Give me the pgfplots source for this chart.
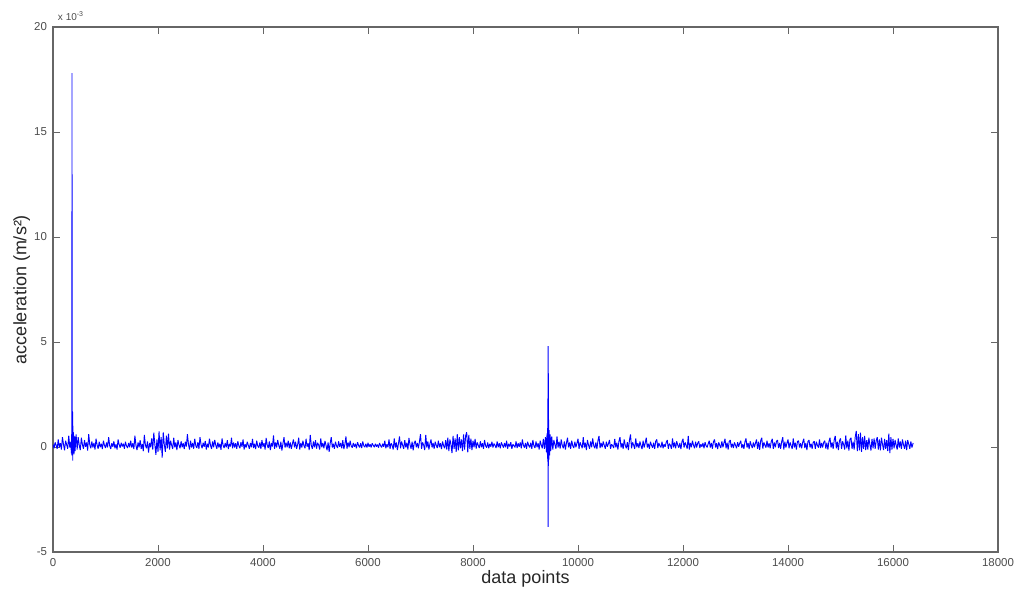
\documentclass[border=0pt]{standalone}
\usepackage{pgfplots}
\pgfplotsset{compat=1.18}
\usepackage{fontspec}
\setmainfont{Liberation Sans}
\definecolor{axgray}{rgb}{0.40,0.40,0.40}
\definecolor{txtgray}{rgb}{0.30,0.30,0.30}
\begin{document}
\begin{tikzpicture}
\path[use as bounding box] (-39.75pt,-35.25pt) rectangle (728.25pt,414pt);
\begin{axis}[
  at={(0,0)}, anchor=south west,
  scale only axis, width=708.75pt, height=393.75pt,
  xmin=0, xmax=18000, ymin=-5, ymax=20,
  xtick={0,2000,...,18000}, ytick={-5,0,5,10,15,20},
  scaled x ticks=false, scaled y ticks=false,
  tick align=inside, major tick length=5pt,
  xtick pos=both, ytick pos=both,
  xticklabel pos=bottom, yticklabel pos=left,
  axis line style={axgray, line width=0.8pt},
  tick style={axgray, line width=0.7pt},
  /pgf/number format/assume math mode=true,
  /pgf/number format/set thousands separator={},
  ticklabel style={font=\fontsize{8.6}{10}\selectfont, text=txtgray},
  xticklabel style={yshift=-1pt},
  yticklabel style={xshift=-1pt},
  xlabel={data points},
  ylabel={acceleration (m/s²)},
  label style={font=\fontsize{13.5}{16}\selectfont, text=black!85},
  xlabel style={at={(axis description cs:0.5,0)}, anchor=center, yshift=-20.5pt},
  ylabel style={at={(axis description cs:-0.033,0.5)}, anchor=center},
  clip mode=individual,
]
\addplot[color={rgb,255:red,0;green,0;blue,255}, line width=0.7pt, line join=bevel] coordinates {
(0,0.12)(20,-0.06)(40,0.22)(60,0.08)(80,-0.09)(100,0.36)(120,-0.01)(140,0.18)(160,-0.12)(180,0.47)(200,0.13)(220,-0.16)(240,0.30)(260,0.11)(280,-0.08)(300,0.54)(320,-0.03)(340,0.25)(350,-0.30)(355,0.6)(360,-0.4)(362,17.8)(364,0.2)(366,2.9)(368,-0.3)(372,1.7)(376,-0.65)(380,1.0)(385,0.1)(390,0.7)(400,-0.35)(410,0.5)(420,-0.2)(440,0.6)(460,-0.12)(480,0.47)(500,0.08)
(520,-0.15)(540,0.44)(560,0.12)(580,-0.09)(600,0.33)(620,0.01)(640,0.22)(660,-0.17)(680,0.61)(700,0.11)(720,-0.06)(740,0.26)(760,-0.02)(780,0.19)(800,-0.12)(820,0.40)(840,0.09)(860,-0.08)(880,0.25)(900,-0.01)(920,0.16)(940,-0.10)(960,0.30)(980,0.08)(1000,-0.05)
(1020,0.22)(1040,-0.02)(1060,0.47)(1080,0.06)(1100,-0.09)(1120,0.18)(1140,0.01)(1160,0.27)(1180,-0.06)(1200,0.13)(1220,-0.12)(1240,0.36)(1260,0.11)(1280,-0.03)(1300,0.20)(1320,0.02)(1340,0.16)(1360,-0.08)(1380,0.25)(1400,0.05)(1420,-0.05)(1440,0.19)(1460,-0.01)(1480,0.30)(1500,-0.03)
(1520,0.18)(1540,-0.10)(1560,0.54)(1580,0.08)(1600,-0.15)(1620,0.22)(1640,-0.02)(1660,0.33)(1680,-0.09)(1700,0.15)(1720,-0.20)(1740,0.58)(1760,0.09)(1780,-0.06)(1800,0.26)(1820,-0.26)(1840,0.19)(1860,-0.01)(1880,0.41)(1900,-0.12)(1920,0.68)(1940,0.12)(1960,-0.37)(1980,0.36)(2000,-0.23)
(2020,0.74)(2040,-0.16)(2060,0.47)(2080,-0.50)(2100,0.70)(2120,0.12)(2140,-0.23)(2160,0.54)(2180,-0.06)(2200,0.64)(2220,-0.12)(2240,0.30)(2260,0.08)(2280,-0.09)(2300,0.44)(2320,-0.02)(2340,0.22)(2360,-0.15)(2380,0.33)(2400,0.09)(2420,-0.06)(2440,0.27)(2460,-0.01)(2480,0.18)(2500,-0.10)
(2520,0.25)(2540,0.02)(2560,0.61)(2580,0.13)(2600,-0.12)(2620,0.30)(2640,-0.03)(2660,0.19)(2680,-0.08)(2700,0.39)(2720,0.06)(2740,-0.05)(2760,0.23)(2780,-0.09)(2800,0.47)(2820,0.11)(2840,-0.06)(2860,0.20)(2880,0.01)(2900,0.29)(2920,-0.12)(2940,0.16)(2960,-0.02)(2980,0.40)(3000,0.08)
(3020,-0.09)(3040,0.26)(3060,-0.01)(3080,0.34)(3100,0.09)(3120,-0.08)(3140,0.22)(3160,-0.03)(3180,0.16)(3200,-0.13)(3220,0.41)(3240,0.08)(3260,-0.05)(3280,0.19)(3300,-0.01)(3320,0.32)(3340,-0.10)(3360,0.15)(3380,0.02)(3400,0.44)(3420,-0.06)(3440,0.22)(3460,-0.02)(3480,0.18)(3500,-0.09)
(3520,0.27)(3540,0.06)(3560,-0.06)(3580,0.23)(3600,0.01)(3620,0.36)(3640,-0.12)(3660,0.13)(3680,-0.02)(3700,0.25)(3720,0.08)(3740,-0.08)(3760,0.19)(3780,-0.01)(3800,0.39)(3820,-0.05)(3840,0.16)(3860,-0.10)(3880,0.30)(3900,0.05)(3920,-0.03)(3940,0.22)(3960,-0.09)(3980,0.33)(4000,0.01)
(4020,0.18)(4040,-0.12)(4060,0.43)(4080,0.09)(4100,-0.05)(4120,0.26)(4140,-0.15)(4160,0.19)(4180,0.02)(4200,0.55)(4220,-0.09)(4240,0.22)(4260,-0.02)(4280,0.33)(4300,0.08)(4320,-0.08)(4340,0.25)(4360,-0.17)(4380,0.16)(4400,0.47)(4420,-0.03)(4440,0.20)(4460,-0.01)(4480,0.30)(4500,-0.06)
(4520,0.22)(4540,-0.09)(4560,0.15)(4580,0.36)(4600,-0.02)(4620,0.25)(4640,-0.08)(4660,0.11)(4680,0.44)(4700,-0.12)(4720,0.19)(4740,-0.03)(4760,0.30)(4780,0.06)(4800,-0.06)(4820,0.39)(4840,0.01)(4860,0.18)(4880,-0.15)(4900,0.58)(4920,0.08)(4940,-0.09)(4960,0.26)(4980,-0.02)(5000,0.33)
(5020,-0.08)(5040,0.20)(5060,0.09)(5080,-0.12)(5100,0.41)(5120,-0.01)(5140,0.19)(5160,-0.06)(5180,0.29)(5200,0.08)(5220,-0.16)(5240,0.22)(5260,-0.23)(5280,0.18)(5300,0.47)(5320,-0.03)(5340,0.16)(5360,-0.09)(5380,0.25)(5400,0.06)(5420,-0.05)(5440,0.27)(5460,0.01)(5480,0.19)(5500,-0.06)
(5520,0.33)(5540,-0.10)(5560,0.13)(5580,0.50)(5600,-0.08)(5620,0.22)(5640,-0.01)(5660,0.30)(5680,0.05)(5700,-0.03)(5720,0.19)(5740,0.01)(5760,0.15)(5780,-0.06)(5800,0.23)(5820,0.08)(5840,-0.02)(5860,0.18)(5880,-0.05)(5900,0.26)(5920,0.06)(5940,-0.01)(5960,0.16)(5980,-0.03)(6000,0.20)
(6020,0.01)(6040,0.13)(6060,-0.02)(6080,0.18)(6100,0.08)(6120,-0.01)(6140,0.15)(6160,0.02)(6180,0.12)(6200,-0.03)(6220,0.19)(6240,0.06)(6260,-0.02)(6280,0.16)(6300,0.01)(6320,0.30)(6340,-0.06)(6360,0.13)(6380,-0.01)(6400,0.36)(6420,-0.09)(6440,0.18)(6460,0.08)(6480,-0.12)(6500,0.41)
(6520,-0.03)(6540,0.22)(6560,-0.15)(6580,0.16)(6600,0.50)(6620,-0.06)(6640,0.26)(6660,0.08)(6680,-0.09)(6700,0.33)(6720,-0.02)(6740,0.20)(6760,-0.12)(6780,0.43)(6800,0.11)(6820,-0.08)(6840,0.25)(6860,-0.16)(6880,0.18)(6900,0.30)(6920,-0.01)(6940,0.19)(6960,-0.06)(6980,0.26)(7000,0.61)
(7020,-0.09)(7040,0.22)(7060,0.09)(7080,-0.15)(7100,0.58)(7120,-0.03)(7140,0.27)(7160,-0.12)(7180,0.16)(7200,0.36)(7220,-0.02)(7240,0.19)(7260,-0.08)(7280,0.25)(7300,0.08)(7320,-0.05)(7340,0.30)(7360,-0.01)(7380,0.18)(7400,-0.10)(7420,0.26)(7440,0.06)(7460,-0.06)(7480,0.33)(7500,-0.12)
(7520,0.44)(7540,-0.20)(7560,0.36)(7580,0.12)(7600,-0.29)(7620,0.53)(7640,-0.09)(7660,0.41)(7680,-0.23)(7700,0.61)(7720,-0.16)(7740,0.47)(7760,-0.06)(7780,0.36)(7800,-0.20)(7820,0.60)(7840,-0.12)(7860,0.54)(7880,0.70)(7900,-0.26)(7920,0.58)(7940,-0.09)(7960,0.40)(7980,-0.15)(8000,0.30)
(8020,-0.02)(8040,0.39)(8060,-0.08)(8080,0.22)(8100,0.08)(8120,-0.05)(8140,0.27)(8160,-0.01)(8180,0.18)(8200,-0.09)(8220,0.33)(8240,0.06)(8260,-0.03)(8280,0.22)(8300,-0.06)(8320,0.15)(8340,0.01)(8360,0.25)(8380,-0.02)(8400,0.16)(8420,0.08)(8440,-0.05)(8460,0.26)(8480,-0.01)(8500,0.18)
(8520,-0.06)(8540,0.22)(8560,0.09)(8580,-0.03)(8600,0.19)(8620,-0.01)(8640,0.30)(8660,-0.08)(8680,0.15)(8700,0.02)(8720,0.23)(8740,-0.09)(8760,0.13)(8780,0.06)(8800,-0.02)(8820,0.27)(8840,-0.05)(8860,0.18)(8880,0.01)(8900,0.22)(8920,-0.06)(8940,0.36)(8960,0.08)(8980,-0.03)(9000,0.19)
(9020,-0.08)(9040,0.25)(9060,0.08)(9080,-0.02)(9100,0.20)(9120,-0.09)(9140,0.33)(9160,0.06)(9180,-0.05)(9200,0.26)(9220,-0.01)(9240,0.18)(9260,-0.12)(9280,0.30)(9300,0.09)(9320,-0.06)(9340,0.39)(9360,-0.09)(9380,0.47)(9400,-0.26)(9410,0.65)(9420,-0.55)(9426,2.3)(9428,-1.0)(9430,4.8)(9432,-3.8)(9434,3.5)(9436,-0.9)(9440,1.3)(9445,-0.6)(9450,0.8)(9460,-0.4)(9470,0.6)(9480,-0.2)(9500,0.5)
(9520,-0.12)(9540,0.33)(9560,0.11)(9580,-0.09)(9600,0.50)(9620,-0.03)(9640,0.25)(9660,-0.08)(9680,0.36)(9700,0.08)(9720,-0.06)(9740,0.27)(9760,-0.12)(9780,0.19)(9800,0.44)(9820,-0.02)(9840,0.22)(9860,-0.09)(9880,0.30)(9900,0.06)(9920,-0.05)(9940,0.25)(9960,-0.01)(9980,0.18)(10000,0.39)
(10020,-0.09)(10040,0.23)(10060,0.08)(10080,-0.06)(10100,0.47)(10120,-0.03)(10140,0.20)(10160,-0.15)(10180,0.33)(10200,0.09)(10220,-0.08)(10240,0.26)(10260,-0.02)(10280,0.41)(10300,0.06)(10320,-0.06)(10340,0.22)(10360,-0.10)(10380,0.30)(10400,0.53)(10420,-0.05)(10440,0.19)(10460,-0.01)(10480,0.26)(10500,0.08)
(10520,-0.08)(10540,0.25)(10560,0.01)(10580,0.16)(10600,0.33)(10620,-0.09)(10640,0.13)(10660,0.06)(10680,-0.05)(10700,0.39)(10720,-0.02)(10740,0.20)(10760,-0.12)(10780,0.27)(10800,0.47)(10820,-0.03)(10840,0.18)(10860,-0.09)(10880,0.36)(10900,0.08)(10920,-0.06)(10940,0.23)(10960,-0.15)(10980,0.33)(11000,0.60)
(11020,-0.06)(11040,0.22)(11060,0.09)(11080,-0.09)(11100,0.41)(11120,-0.01)(11140,0.18)(11160,-0.05)(11180,0.26)(11200,0.06)(11220,-0.10)(11240,0.30)(11260,-0.03)(11280,0.19)(11300,0.44)(11320,-0.02)(11340,0.16)(11360,-0.08)(11380,0.25)(11400,0.08)(11420,-0.03)(11440,0.20)(11460,-0.09)(11480,0.27)(11500,0.36)
(11520,-0.05)(11540,0.19)(11560,0.06)(11580,-0.02)(11600,0.25)(11620,-0.06)(11640,0.13)(11660,0.01)(11680,0.22)(11700,0.33)(11720,-0.08)(11740,0.16)(11760,0.08)(11780,-0.09)(11800,0.41)(11820,-0.02)(11840,0.22)(11860,-0.06)(11880,0.27)(11900,0.09)(11920,-0.03)(11940,0.19)(11960,-0.10)(11980,0.25)(12000,0.39)
(12020,-0.03)(12040,0.22)(12060,0.08)(12080,-0.08)(12100,0.53)(12120,-0.12)(12140,0.19)(12160,-0.01)(12180,0.30)(12200,0.08)(12220,-0.06)(12240,0.25)(12260,-0.02)(12280,0.18)(12300,0.27)(12320,-0.05)(12340,0.13)(12360,0.01)(12380,0.19)(12400,-0.06)(12420,0.23)(12440,0.06)(12460,-0.02)(12480,0.16)(12500,0.30)
(12520,-0.03)(12540,0.19)(12560,-0.08)(12580,0.25)(12600,0.36)(12620,-0.02)(12640,0.18)(12660,-0.10)(12680,0.22)(12700,0.08)(12720,-0.05)(12740,0.27)(12760,-0.01)(12780,0.19)(12800,0.39)(12820,-0.06)(12840,0.20)(12860,-0.12)(12880,0.26)(12900,0.33)(12920,-0.02)(12940,0.16)(12960,-0.05)(12980,0.22)(13000,0.08)
(13020,-0.06)(13040,0.23)(13060,0.01)(13080,0.18)(13100,0.30)(13120,-0.05)(13140,0.13)(13160,-0.09)(13180,0.25)(13200,0.41)(13220,-0.03)(13240,0.19)(13260,-0.10)(13280,0.27)(13300,0.09)(13320,-0.05)(13340,0.22)(13360,-0.01)(13380,0.18)(13400,0.36)(13420,-0.09)(13440,0.25)(13460,-0.13)(13480,0.30)(13500,0.44)
(13520,-0.08)(13540,0.22)(13560,0.08)(13580,-0.03)(13600,0.30)(13620,-0.02)(13640,0.18)(13660,-0.06)(13680,0.25)(13700,0.39)(13720,-0.09)(13740,0.22)(13760,-0.01)(13780,0.27)(13800,0.33)(13820,-0.05)(13840,0.19)(13860,-0.08)(13880,0.26)(13900,0.47)(13920,-0.12)(13940,0.25)(13960,-0.03)(13980,0.19)(14000,0.36)
(14020,-0.06)(14040,0.22)(14060,0.06)(14080,-0.09)(14100,0.41)(14120,-0.02)(14140,0.20)(14160,-0.12)(14180,0.26)(14200,0.30)(14220,-0.03)(14240,0.18)(14260,-0.06)(14280,0.23)(14300,0.39)(14320,-0.05)(14340,0.19)(14360,-0.15)(14380,0.27)(14400,0.33)(14420,-0.02)(14440,0.16)(14460,-0.08)(14480,0.22)(14500,0.27)
(14520,-0.09)(14540,0.25)(14560,0.08)(14580,-0.03)(14600,0.36)(14620,-0.05)(14640,0.19)(14660,-0.02)(14680,0.22)(14700,0.30)(14720,-0.08)(14740,0.20)(14760,-0.12)(14780,0.27)(14800,0.44)(14820,-0.03)(14840,0.22)(14860,-0.09)(14880,0.33)(14900,0.53)(14920,-0.06)(14940,0.25)(14960,-0.15)(14980,0.30)(15000,0.41)
(15020,-0.09)(15040,0.27)(15060,0.11)(15080,-0.12)(15100,0.55)(15120,-0.06)(15140,0.30)(15160,-0.17)(15180,0.36)(15200,0.44)(15220,-0.09)(15240,0.25)(15260,-0.12)(15280,0.47)(15300,0.76)(15320,-0.20)(15340,0.61)(15360,-0.16)(15380,0.68)(15400,-0.23)(15420,0.47)(15440,-0.09)(15460,0.53)(15480,-0.15)(15500,0.33)
(15520,-0.12)(15540,0.44)(15560,0.11)(15580,-0.17)(15600,0.39)(15620,-0.06)(15640,0.41)(15660,-0.09)(15680,0.30)(15700,0.47)(15720,-0.12)(15740,0.36)(15760,-0.16)(15780,0.44)(15800,0.13)(15820,-0.15)(15840,0.39)(15860,-0.09)(15880,0.33)(15900,-0.20)(15920,0.64)(15940,-0.29)(15960,0.47)(15980,-0.12)(16000,0.39)
(16020,-0.06)(16040,0.33)(16060,0.08)(16080,-0.12)(16100,0.41)(16120,-0.03)(16140,0.27)(16160,-0.09)(16180,0.36)(16200,0.11)(16220,-0.08)(16240,0.30)(16260,-0.15)(16280,0.33)(16300,0.13)(16320,-0.09)(16340,0.27)(16360,-0.03)(16384,0.19)
};
\node[anchor=south west, font=\fontsize{7.5}{9}\selectfont, text=txtgray, inner sep=0pt] at (rel axis cs:0.005,1.012) {x 10\textsuperscript{-3}};
\end{axis}
\end{tikzpicture}
\end{document}
